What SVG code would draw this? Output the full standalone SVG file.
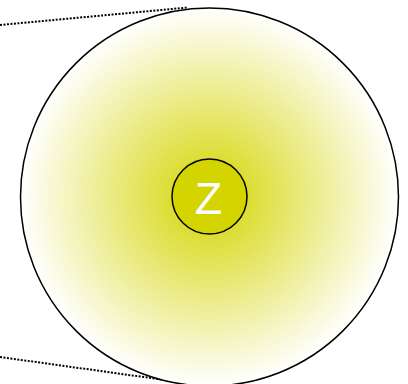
<svg xmlns="http://www.w3.org/2000/svg" width="408" height="384" viewBox="0 0 408 384">
<defs>
<radialGradient id="g" cx="0.5" cy="0.5" r="0.5">
<stop offset="0" stop-color="#d4d400"/>
<stop offset="1" stop-color="#ffffff"/>
</radialGradient>
<style>
.dot{stroke:#000;stroke-width:2;stroke-dasharray:2,1.5;fill:none}
</style>
</defs>
<g id="connectors">
<line class="dot" x1="0" y1="25" x2="188" y2="7.5"/>
<line class="dot" x1="0" y1="357" x2="190" y2="383.5"/>
</g>
<g id="outer">
<circle cx="209.5" cy="197" r="189" fill="url(#g)" stroke="#000" stroke-width="1.5"/>
</g>
<g id="z">
<circle cx="209.5" cy="196.5" r="37.5" fill="#d4d400" stroke="#000" stroke-width="1.5"/>
<text x="208.5" y="214" text-anchor="middle" font-family="Liberation Sans, Arial, sans-serif" font-size="45" fill="#fff">Z</text>
</g>
</svg>
